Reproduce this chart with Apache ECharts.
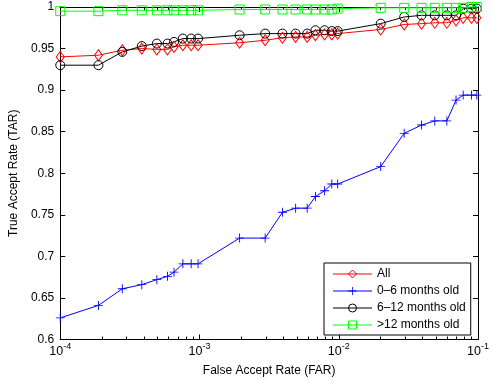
<!DOCTYPE html>
<html>
<head>
<meta charset="utf-8">
<script src="https://cdn.jsdelivr.net/npm/echarts@6/dist/echarts.min.js"></script>
<style>
html,body{margin:0;padding:0;background:#fff;}
#chart{width:492px;height:382px;}
</style>
</head>
<body>
<div id="chart"></div>
<script>
// False accept rate (x values shared by all series)
var far = [1.0e-4, 1.88e-4, 2.79e-4, 3.85e-4, 4.94e-4, 5.89e-4, 6.56e-4, 7.59e-4, 8.71e-4, 9.76e-4,
           1.94e-3, 2.96e-3, 3.94e-3, 4.90e-3, 5.93e-3, 6.80e-3, 7.91e-3, 8.91e-3, 9.82e-3,
           2.0e-2, 2.95e-2, 3.93e-2, 4.89e-2, 5.97e-2, 6.95e-2, 7.82e-2, 8.98e-2, 9.8e-2];
// True accept rate per group
var tarAll = [0.940, 0.942, 0.948, 0.950, 0.949, 0.949, 0.952, 0.954, 0.954, 0.954,
              0.957, 0.960, 0.963, 0.964, 0.964, 0.966, 0.967, 0.967, 0.968,
              0.973, 0.979, 0.980, 0.981, 0.981, 0.984, 0.987, 0.987, 0.987];
var tar0to6 = [0.626, 0.641, 0.661, 0.666, 0.672, 0.676, 0.681, 0.691, 0.691, 0.691,
               0.722, 0.722, 0.753, 0.758, 0.758, 0.772, 0.779, 0.787, 0.787,
               0.808, 0.848, 0.858, 0.863, 0.863, 0.888, 0.894, 0.894, 0.894];
var tar6to12 = [0.930, 0.930, 0.946, 0.953, 0.956, 0.956, 0.958, 0.962, 0.962, 0.962,
                0.966, 0.968, 0.968, 0.968, 0.968, 0.972, 0.972, 0.971, 0.971,
                0.980, 0.988, 0.990, 0.990, 0.990, 0.990, 0.998, 0.998, 0.998];
var tarOver12 = [0.995, 0.995, 0.996, 0.996, 0.996, 0.996, 0.996, 0.996, 0.996, 0.996,
                 0.997, 0.997, 0.997, 0.997, 0.997, 0.997, 0.997, 0.997, 0.998,
                 0.999, 0.999, 0.999, 0.999, 0.999, 0.999, 0.999, 1.000, 1.000];
var seriesNames = ['All', '0\u20136 months old', '6\u201312 months old', '>12 months old'];
// Axis ticks
var xMajorTicks = [1e-4, 1e-3, 1e-2, 1e-1];
var xMinorTicks = [2e-4,3e-4,4e-4,5e-4,6e-4,7e-4,8e-4,9e-4,
                   2e-3,3e-3,4e-3,5e-3,6e-3,7e-3,8e-3,9e-3,
                   2e-2,3e-2,4e-2,5e-2,6e-2,7e-2,8e-2,9e-2];
var yTickLabels = ['0.6','0.65','0.7','0.75','0.8','0.85','0.9','0.95','1'];

var FONT = 'Liberation Sans';
function pairs(ys){ return far.map(function(x,i){ return [x, ys[i]]; }); }
function xAxisBase(pos){
  return {type:'log', logBase:10, min:1e-4, max:1e-1, position:pos, gridIndex:0,
          axisLine:{show:true, onZero:false, lineStyle:{color:'#000', width:1}},
          splitLine:{show:false}, minorTick:{show:false}, minorSplitLine:{show:false}};
}
var xAxes = [];
var a0 = xAxisBase('bottom');
a0.axisTick = {show:true, inside:true, length:5, customValues:xMajorTicks, lineStyle:{color:'#000'}};
a0.axisLabel = {show:true, customValues:xMajorTicks, margin:3,
  formatter:function(v){ return '{b|10}{s|' + Math.round(Math.log10(v)) + '}'; },
  rich:{ b:{fontSize:12.5, fontFamily:FONT, color:'#000', lineHeight:16, verticalAlign:'bottom'},
         s:{fontSize:9, fontFamily:FONT, color:'#000', lineHeight:10, verticalAlign:'top'} } };
a0.name = 'False Accept Rate (FAR)';
a0.nameLocation = 'middle';
a0.nameGap = 25;
a0.nameTextStyle = {fontSize:12, fontFamily:FONT, color:'#000'};
xAxes.push(a0);
var a1 = xAxisBase('bottom');
a1.axisTick = {show:true, inside:true, length:3, customValues:xMinorTicks, lineStyle:{color:'#000'}};
a1.axisLabel = {show:false};
xAxes.push(a1);
var a2 = xAxisBase('top');
a2.axisTick = {show:true, inside:true, length:5, customValues:xMajorTicks, lineStyle:{color:'#000'}};
a2.axisLabel = {show:false};
xAxes.push(a2);
var a3 = xAxisBase('top');
a3.axisTick = {show:true, inside:true, length:3, customValues:xMinorTicks, lineStyle:{color:'#000'}};
a3.axisLabel = {show:false};
xAxes.push(a3);

function yAxisBase(pos){
  return {type:'value', min:0.6, max:1, interval:0.05, position:pos,
          axisLine:{show:true, onZero:false, lineStyle:{color:'#000', width:1}},
          axisTick:{show:true, inside:true, length:5, lineStyle:{color:'#000'}},
          splitLine:{show:false}};
}
var y0 = yAxisBase('left');
y0.axisLabel = {show:true, margin:6, fontSize:12, fontFamily:FONT, color:'#000',
  formatter:function(v){ var i = Math.round((v-0.6)/0.05); return yTickLabels[i]; }};
y0.name = 'True Accept Rate (TAR)';
y0.nameLocation = 'middle';
y0.nameGap = 37;
y0.nameTextStyle = {fontSize:12, fontFamily:FONT, color:'#000'};
var y1 = yAxisBase('right');
y1.axisLabel = {show:false};

var plusPath = 'path://M0,4.5H10V5.5H0Z M4.5,0H5.5V10H4.5Z';
function mk(name, ys, color, symbol, size, filled){
  return {name:name, type:'line', data:pairs(ys), xAxisIndex:0, yAxisIndex:0,
    symbol:symbol, symbolSize:size, showSymbol:true, clip:false, animation:false,
    lineStyle:{color:color, width:1},
    itemStyle: filled ? {color:color, borderWidth:0} : {color:'rgba(255,255,255,0)', borderColor:color, borderWidth:1},
    emphasis:{disabled:true}};
}

var chart = echarts.init(document.getElementById('chart'), null, {renderer:'canvas'});
chart.setOption({
  animation:false,
  backgroundColor:'#fff',
  grid:{left:58, right:10.5, top:7, bottom:42.5, containLabel:false},
  xAxis:xAxes,
  yAxis:[y0, y1],
  legend:{
    orient:'vertical', left:324, top:263,
    data:seriesNames,
    itemWidth:39, itemHeight:10, itemGap:5,
    padding:[5,5,4,8.5],
    lineStyle:{width:1},
    itemStyle:{borderWidth:1},
    backgroundColor:'#fff', borderColor:'#000', borderWidth:1,
    textStyle:{fontSize:12, fontFamily:FONT, color:'#000'}
  },
  series:[
    mk(seriesNames[0], tarAll, '#ff0000', 'diamond', [8,11], false),
    mk(seriesNames[1], tar0to6, '#0000ff', plusPath, 9, true),
    mk(seriesNames[2], tar6to12, '#000000', 'circle', 9, false),
    mk(seriesNames[3], tarOver12, '#00ff00', 'rect', 9, false)
  ]
});
</script>
</body>
</html>
